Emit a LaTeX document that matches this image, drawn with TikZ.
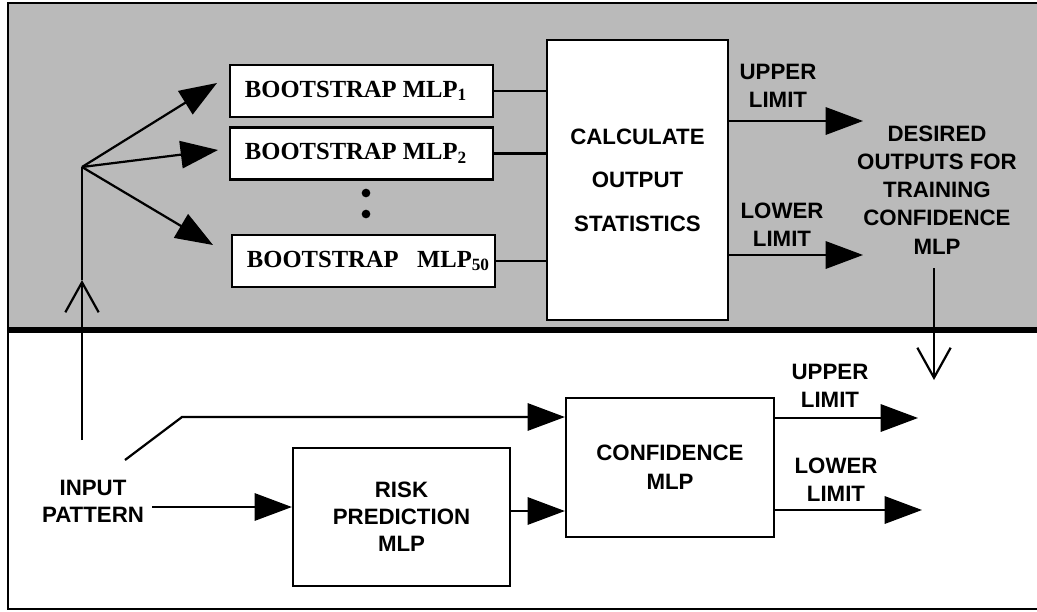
\documentclass[tikz,border=0pt]{standalone}
\usepackage{fontspec}
\setmainfont{Liberation Sans}
\newfontfamily\serifb{Liberation Serif}
\usetikzlibrary{arrows.meta}
\begin{document}
\begin{tikzpicture}[x=0.03cm,y=-0.03cm,
  lw/.style={line width=1.9pt},
  box/.style={draw, fill=white, line width=1.9pt, inner sep=0pt},
  lbl/.style={font=\fontsize{19}{24}\selectfont\bfseries, align=center, inner sep=0pt},
  bsbox/.style={box, font=\fontsize{21}{23}\selectfont\serifb\bfseries,
                minimum width=7.89cm, minimum height=1.56cm},
  arr/.style={lw, -{Triangle[length=1.12cm,width=0.82cm]}},
  oarr/.style={lw, -{Straight Barb[length=0.9cm,width=1cm]}},
  dot/.style={circle, fill=black, inner sep=0pt, minimum size=0.26cm},
]
\useasboundingbox (0,0) rectangle (1037,611);
% background and frame
\fill[black!27] (8,3) rectangle (1037,330);
\draw[line width=1.8pt] (1037,3) -- (8,3) -- (8,609) -- (1037,609);
\draw[line width=5pt] (8,330) -- (1037,330);

% top section
\node[bsbox] (b1) at (361.5,91) {\makebox[6.99cm][l]{BOOTSTRAP MLP\textsubscript{1}}};
\node[bsbox] (b2) at (361.5,153.5) {\makebox[6.99cm][l]{BOOTSTRAP MLP\textsubscript{2}}};
\node[bsbox] (b3) at (363.5,261) {\makebox[6.99cm][l]{BOOTSTRAP\hspace{0.75em}MLP\textsubscript{50}}};
\node[dot] (d1) at (366,193) {};
\node[dot] (d2) at (366,214) {};
\node[box, minimum width=5.43cm, minimum height=8.4cm, font=\fontsize{19}{37}\selectfont\bfseries, align=center] (calc) at (637.5,180) {CALCULATE\\OUTPUT\\STATISTICS};

\foreach \b in {b1,b2,b3} \draw[lw] (\b.east) -- (\b.east -| calc.west);

\coordinate (fan) at (82,167);
\coordinate (t1) at (217,83);
\coordinate (t2) at (218,150);
\coordinate (t3) at (213,245);
\draw[arr] (fan) -- (t1);
\draw[arr] (fan) -- (t2);
\draw[arr] (fan) -- (t3);

\coordinate (vbot) at (82,440);
\coordinate (vmid) at (82,280);
\draw[oarr] (vbot) -- (vmid);
\draw[lw] (vmid) -- (fan);

\coordinate (uo) at (863,121);
\coordinate (lo) at (863,255);
\draw[arr] (calc.east |- uo) -- (uo);
\draw[arr] (calc.east |- lo) -- (lo);
\node[lbl] (ul1) at (778,86) {UPPER\\LIMIT};
\node[lbl] (ll1) at (782,225) {LOWER\\LIMIT};
\node[lbl] (des) at (937,190) {DESIRED\\OUTPUTS FOR\\TRAINING\\CONFIDENCE\\MLP};

\coordinate (dtop) at (934,268);
\coordinate (dtip) at (934,380);
\draw[oarr] (dtop) -- (dtip);

% bottom section
\node[box, minimum width=6.24cm, minimum height=4.17cm, font=\fontsize{19}{25}\selectfont\bfseries, align=center] (conf) at (670,467.5) {CONFIDENCE\\MLP};
\node[box, minimum width=6.51cm, minimum height=4.14cm, font=\fontsize{19}{23}\selectfont\bfseries, align=center] (risk) at (401.5,517) {RISK\\PREDICTION\\MLP};
\node[lbl, font=\fontsize{19}{23}\selectfont\bfseries] (inp) at (93,501) {INPUT\\PATTERN};

\coordinate (ia) at (152,507);
\draw[arr] (ia) -- (risk.west |- ia);

\coordinate (s1) at (125,460);
\coordinate (s2) at (182,417);
\draw[arr] (s1) -- (s2) -- (conf.west |- s2);

\coordinate (r1) at (510,511);
\draw[arr] (risk.east |- r1) -- (conf.west |- r1);

\coordinate (co1) at (918,418);
\coordinate (co2) at (922,510);
\draw[arr] (conf.east |- co1) -- (co1);
\draw[arr] (conf.east |- co2) -- (co2);
\node[lbl] (ul2) at (830,386) {UPPER\\LIMIT};
\node[lbl] (ll2) at (836,480) {LOWER\\LIMIT};
\end{tikzpicture}
\end{document}
